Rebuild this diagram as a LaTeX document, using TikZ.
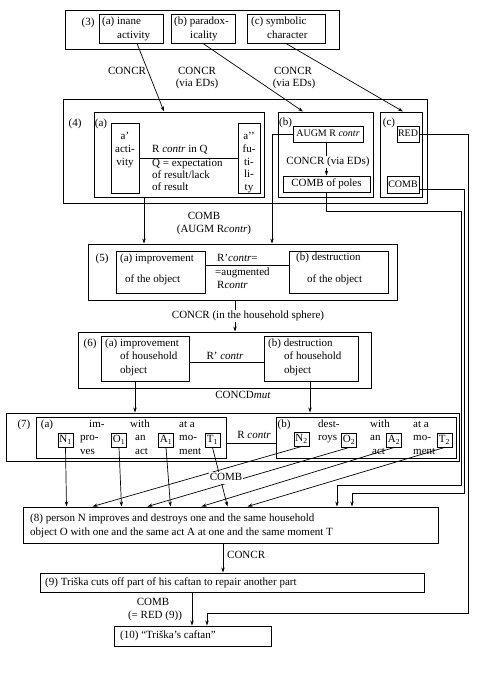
\documentclass[tikz,border=0pt]{standalone}
\usepackage{fontspec}
\setmainfont{Liberation Serif}
\usetikzlibrary{fit,calc,arrows.meta}
\begin{document}
\begin{tikzpicture}[x=1pt,y=-1pt,
 box/.style={draw,line width=1pt,inner sep=0pt},
 t/.style={inner sep=0pt,font=\fontsize{11}{13}\selectfont,text height=7.5pt,text depth=2.2pt},
 ts/.style={t,font=\fontsize{10}{12}\selectfont},
 tw/.style={t,anchor=west},
 sb/.style={box,t,minimum width=15pt,minimum height=14pt},
 ln/.style={line width=0.7pt},
 arr/.style={line width=0.7pt,-{Stealth[length=5pt,width=3.4pt]}},
 wl/.style={t,fill=white,inner sep=1pt}]
\useasboundingbox (0,0) rectangle (500,686);
% ---------- (3)
\node[box,fit={(65,10) (339,49)}] (b3) {};
\node[t] (l3) at (88,23) {(3)};
\node[box,fit={(99,14) (163,43)}] (a3) {};
\node[tw] (a3t1) at (102,22) {(a) inane};
\node[tw] (a3t2) at (117,36) {activity};
\node[box,fit={(171,14) (235,43)}] (bb3) {};
\node[tw] (bb3t1) at (174,22) {(b) paradox-};
\node[tw] (bb3t2) at (190,36) {icality};
\node[box,fit={(247,14) (325,43)}] (c3) {};
\node[tw] (c3t1) at (251,22) {(c) symbolic};
\node[tw] (c3t2) at (267,36) {character};
% labels between (3) and (4)
\node[t] (lc1) at (127,72) {CONCR};
\node[t] (lc2a) at (197,72) {CONCR};
\node[t] (lc2b) at (197,84) {(via EDs)};
\node[t] (lc3a) at (293,72) {CONCR};
\node[t] (lc3b) at (294,84) {(via EDs)};
% ---------- (4)
\node[box,fit={(63,99) (427,203)}] (b4) {};
\node[t] (l4) at (75,124) {(4)};
\node[box,fit={(94,112) (264,197)}] (a4) {};
\node[t] (a4l) at (101,124) {(a)};
\node[box,fit={(111,123) (139,193)}] (ap) {};
\node[t] (ap1) at (125,137) {a’};
\node[t] (ap2) at (125,150) {acti-};
\node[t] (ap3) at (125,163) {vity};
\node[box,fit={(238,123) (260,193)}] (app) {};
\node[t] (app1) at (249,137) {a’’};
\node[t] (app2) at (249,150) {fu-};
\node[t] (app3) at (249,163) {ti-};
\node[t] (app4) at (249,175) {li-};
\node[t] (app5) at (249,188) {ty};
\draw[ln] (ap.east) -- (app.west);
\node[tw] (q1t) at (152,150) {R \textit{contr} in Q};
\node[tw] (q2t) at (152,164) {Q = expectation};
\node[tw] (q3t) at (152,176) {of result/lack};
\node[tw] (q4t) at (152,188) {of result};
\node[box,fit={(278,112) (373,197)}] (b4b) {};
\node[t] (b4bl) at (285.5,123) {(b)};
\node[box,fit={(293,126) (363,142)}] (augm) {};
\node[ts] (augmt) at (augm) {AUGM R \textit{contr}};
\node[box,fit={(283,176) (370,192)}] (poles) {};
\node[t] (polest) at (poles) {COMB of poles};
\draw[arr] (augm.south -| poles.north) -- (poles.north);
\node[wl] (viaeds) at (328,162) {CONCR (via EDs)};
\node[box,fit={(380,112) (422,197)}] (b4c) {};
\node[t] (b4cl) at (389,123) {(c)};
\node[box,fit={(397,126) (419,142)}] (red) {};
\node[ts] (redt) at (red) {RED};
\node[box,fit={(387,176) (419,193)}] (cmbc) {};
\node[ts] (cmbct) at (cmbc) {COMB};
% arrows (3) -> (4)
\draw[arr] ($(a3.south)+(6,0)$) -- ($(a4.north)+(-15,0)$);
\draw[arr] (bb3.south) -- ($(b4b.north)+(-22.5,0)$);
\draw[arr] (c3.south) -- ($(b4c.north)+(2,0)$);
% ---------- (5)
\node[box,fit={(88,244) (397,300)}] (b5) {};
\node[t] (l5) at (102,259) {(5)};
\node[box,fit={(116,251) (205,293)}] (a5) {};
\node[tw] (a5t1) at (120,259) {(a) improvement};
\node[tw] (a5t2) at (125,280) {of the object};
\node[box,fit={(289,251) (388,293)}] (b5b) {};
\node[tw] (b5t1) at (296,258) {(b) destruction};
\node[tw] (b5t2) at (307,280) {of the object};
\draw[ln] ($(a5.north east)+(0,15)$) -- ($(b5b.north west)+(0,15)$);
\node[tw] (r5a) at (217,259) {R’\textit{contr}=};
\node[tw] (r5b) at (215,273) {=augmented};
\node[tw] (r5c) at (217,286) {R\textit{contr}};
% (4) -> (5)
\path ($(a4.south)+(-35,0)$) coordinate (d4a);
\draw[arr] (d4a) -- (d4a |- b5.north);
\coordinate (xg) at (272,0);
\draw[arr] (augm.west) -| (xg |- b5.north);
\node[t] (comb45a) at (204,217) {COMB};
\node[t] (comb45b) at (214,230) {(AUGM R\textit{contr})};
% ---------- (6)
\node[box,fit={(78,332) (371,388)}] (b6) {};
\node[t] (l6) at (90,344) {(6)};
\node[box,fit={(101,336) (189,381)}] (a6) {};
\node[tw] (a6t1) at (105,344) {(a) improvement};
\node[tw] (a6t2) at (120,357) {of household};
\node[tw] (a6t3) at (120,371) {object};
\node[box,fit={(264,336) (358,381)}] (b6b) {};
\node[tw] (b6t1) at (268,344) {(b) destruction};
\node[tw] (b6t2) at (284,357) {of household};
\node[tw] (b6t3) at (284,371) {object};
\draw[ln] ($(a6.north east)+(0,27)$) -- ($(b6b.north west)+(0,27)$);
\node[t] (r6) at (225,357) {R’ \textit{contr}};
% (5) -> (6)
\path ($(b5.south)+(-7.5,0)$) coordinate (d5);
\draw[arr] (d5) -- (d5 |- b6.north);
\node[wl] (concr56) at (248,316) {CONCR (in the household sphere)};
% ---------- (7)
\node[box,fit={(6,413) (459,461)}] (b7) {};
\node[t] (l7) at (24,425) {(7)};
\node[box,fit={(36,417) (226,458)}] (a7) {};
\node[t] (a7l) at (47,425) {(a)};
\node[sb] (n1) at (65.5,440) {N\textsubscript{1}};
\node[tw] (n1a) at (89,425) {im-};
\node[tw] (n1b) at (80,438) {pro-};
\node[tw] (n1c) at (80,452) {ves};
\node[sb] (o1) at (119,440) {O\textsubscript{1}};
\node[tw] (o1a) at (130,425) {with};
\node[tw] (o1b) at (135,438) {an};
\node[tw] (o1c) at (135,452) {act};
\node[sb] (aa1) at (166,440) {A\textsubscript{1}};
\node[tw] (a1a) at (179,425) {at a};
\node[tw] (a1b) at (179,438) {mo-};
\node[tw] (a1c) at (179,452) {ment};
\node[sb] (t1) at (212.5,440) {T\textsubscript{1}};
\node[box,fit={(276,417) (456,458)}] (b7b) {};
\node[t] (b7l) at (284,425) {(b)};
\node[sb] (n2) at (301.5,439) {N\textsubscript{2}};
\node[tw] (n2a) at (318,425) {dest-};
\node[tw] (n2b) at (318,438) {roys};
\node[sb] (o2) at (349,440) {O\textsubscript{2}};
\node[tw] (o2a) at (370,425) {with};
\node[tw] (o2b) at (370,438) {an};
\node[tw] (o2c) at (372,452) {act};
\node[sb] (aa2) at (394,440) {A\textsubscript{2}};
\node[tw] (a2a) at (413,425) {at a};
\node[tw] (a2b) at (413,438) {mo-};
\node[tw] (a2c) at (413,452) {ment};
\node[sb] (t2) at (444.5,440) {T\textsubscript{2}};
\draw[ln] ($(a7.east)+(0,5.5)$) -- ($(b7b.west)+(0,5.5)$);
\node[t] (r7) at (254,436) {R \textit{contr}};
% (6) -> (7)
\path ($(a6.south)+(-10,0)$) coordinate (d6a);
\path ($(b6b.south)+(-1,0)$) coordinate (d6b);
\draw[arr] (d6a) -- (d6a |- b7.north);
\draw[arr] (d6b) -- (d6b |- b7.north);
\node[t] (concd) at (243,396) {CONCD\textit{mut}};
% ---------- (8)
\node[box,fit={(23,507) (438,543)}] (b8) {};
\node[tw] (b8t1) at (30,519) {(8) person N improves and destroys one and the same household};
\node[tw] (b8t2) at (30,533) {object O with one and the same act A at one and the same moment T};
% (7) -> (8)
\draw[arr] (n1.south) -- ($(b8.north west)+(44,0)$);
\draw[arr] (o1.south) -- ($(b8.north west)+(99,0)$);
\draw[arr] (aa1.south) -- ($(b8.north west)+(148,0)$);
\draw[arr] (t1.south) -- ($(b8.north west)+(205,0)$);
\draw[arr] (n2.south) -- ($(b8.north west)+(70,0)$);
\draw[arr] (o2.south) -- ($(b8.north west)+(125,0)$);
\draw[arr] (aa2.south) -- ($(b8.north west)+(179,0)$);
\draw[arr] (t2.south) -- ($(b8.north west)+(225,0)$);
\node[wl] (comb78) at (226,478) {COMB};
% ---------- (9)
\node[box,fit={(40,573) (424,592)}] (b9) {};
\node[tw] (b9t) at (45,583) {(9) Triška cuts off part of his caftan to repair another part};
\path ($(b8.south)+(-7.5,0)$) coordinate (d8);
\draw[arr] (d8) -- (d8 |- b9.north);
\node[tw] (concr89) at (227,556) {CONCR};
% ---------- (10)
\node[box,fit={(114,626) (271,646)}] (b10) {};
\node[tw] (b10t) at (120,636) {(10) “Triška’s caftan”};
\path ($(b9.south)+(-40,0)$) coordinate (d9);
\draw[arr] (d9) -- (d9 |- b10.north);
\node[t] (comb910a) at (153,603) {COMB};
\node[t] (comb910b) at (155,616) {(= RED (9))};
% ---------- long right connectors
\coordinate (xa) at (461,0);
\coordinate (xb) at (464.5,0);
\coordinate (xc) at (468,0);
\coordinate (ya) at (0,211);
\coordinate (yb) at (0,485);
\coordinate (yc) at (0,493);
\coordinate (yd) at (0,613);
\coordinate (xd) at (337,0);
\coordinate (xe) at (352,0);
\coordinate (xf) at (207,0);
\draw[arr] (poles.south) |- (xa |- ya) -- (xa |- yb) -| (xd |- b8.north);
\draw[arr] ($(cmbc.east)+(0,4.5)$) -| (xb |- yc) -| (xe |- b8.north);
\draw[arr] (red.east) -| (xc |- yd) -| (xf |- b10.north);
\end{tikzpicture}
\end{document}
